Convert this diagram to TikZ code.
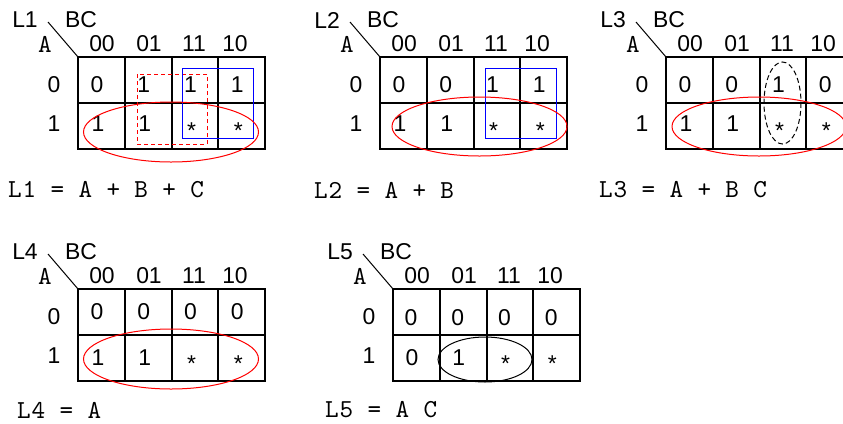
\documentclass[tikz,border=0pt]{standalone}
\usepackage{fontspec}
\setmainfont{Liberation Sans}
\newfontfamily\eqfont[LetterSpace=3]{lmmono10-regular.otf}

\tikzset{
  every node/.style={inner sep=0pt, font=\fontsize{23}{27}\selectfont},
  cellline/.style={line width=2bp},
  vartext/.style={font=\eqfont\fontsize{26}{30}\selectfont},
  eqtext/.style={font=\eqfont\fontsize{26}{30}\selectfont, anchor=west},
  groupred/.style={red, line width=1bp},
  groupblue/.style={blue, line width=1bp},
  groupblack/.style={black, line width=1bp},
}

% Marco de un mapa de Karnaugh (rejilla, cabeceras y etiquetas)
\newcommand{\kframe}[1]{%
  \draw[cellline] (0,0) rectangle (187,92);
  \foreach \i in {1,2,3} \draw[cellline] (\i*46.75,0) -- (\i*46.75,92);
  \draw[cellline] (0,46) -- (187,46);
  \node (name) at (-53,-37) {#1};
  \node (bc) at (3,-37) {BC};
  \node[vartext] (a) at (-33,-13) {A};
  \coordinate (slash) at (-30,-35);
  \coordinate (corner) at (0,0);
  \draw[line width=1bp] (slash) -- (corner);
  \foreach \h/\x in {00/24, 01/71, 11/116, 10/157}
    \node (col\h) at (\x,-13) {\h};
  \node (row0) at (-24,28) {0};
  \node (row1) at (-24,67) {1};
}

\begin{document}
\begin{tikzpicture}[x=1bp, y=-1bp]
  \useasboundingbox (0,0) rectangle (843,423);
  \clip (0,0) rectangle (843,423);

  % L1
  \begin{scope}[shift={(78,57)}, name prefix=m1-]
    \kframe{L1}
    \foreach \v [count=\c from 0] in {0,1,1,1}
      \node (r0c\c) at ({\c*46.75+19},28) {\v};
    \foreach \v/\y [count=\c from 0] in {1/67, 1/67, */74, */74}
      \node (r1c\c) at ({\c*46.75+20},\y) {\v};
    \draw[groupred, dash pattern=on 4bp off 3bp] (59,17) rectangle (129,87);
    \draw[groupblue] (104,11) rectangle (175,81);
    \draw[groupred] (93,75) ellipse [x radius=87.5, y radius=30];
  \end{scope}

  % L2
  \begin{scope}[shift={(380,57)}, name prefix=m2-]
    \kframe{L2}
    \foreach \v [count=\c from 0] in {0,0,1,1}
      \node (r0c\c) at ({\c*46.75+19},28) {\v};
    \foreach \v/\y [count=\c from 0] in {1/67, 1/67, */74, */74}
      \node (r1c\c) at ({\c*46.75+20},\y) {\v};
    \draw[groupblue] (105,11) rectangle (176,81);
    \draw[groupred] (99.5,69.5) ellipse [x radius=87.5, y radius=29.5];
  \end{scope}

  % L3
  \begin{scope}[shift={(666,57)}, name prefix=m3-]
    \kframe{L3}
    \foreach \v [count=\c from 0] in {0,0,1,0}
      \node (r0c\c) at ({\c*46.75+19},28) {\v};
    \foreach \v/\y [count=\c from 0] in {1/67, 1/67, */74, */74}
      \node (r1c\c) at ({\c*46.75+20},\y) {\v};
    \draw[groupblack, dash pattern=on 5bp off 3bp] (116.5,46) ellipse [x radius=18.5, y radius=41];
    \draw[groupred] (93,69.5) ellipse [x radius=87, y radius=29.5];
  \end{scope}

  % L4
  \begin{scope}[shift={(78,289)}, name prefix=m4-]
    \kframe{L4}
    \foreach \v [count=\c from 0] in {0,0,0,0}
      \node (r0c\c) at ({\c*46.75+19},23) {\v};
    \foreach \v/\y [count=\c from 0] in {1/69, 1/69, */75, */75}
      \node (r1c\c) at ({\c*46.75+20},\y) {\v};
    \draw[groupred] (93,70) ellipse [x radius=87.5, y radius=30];
  \end{scope}

  % L5
  \begin{scope}[shift={(393,289)}, name prefix=m5-]
    \kframe{L5}
    \foreach \v [count=\c from 0] in {0,0,0,0}
      \node (r0c\c) at ({\c*46.75+18},29) {\v};
    \foreach \v/\y [count=\c from 0] in {0/69, 1/69, */75, */75}
      \node (r1c\c) at ({\c*46.75+19},\y) {\v};
    \draw[groupblack] (92,70.5) ellipse [x radius=47, y radius=22.5];
  \end{scope}

  % Ecuaciones simplificadas
  \node[eqtext] (eq1) at (8,190) {L1 = A + B + C};
  \node[eqtext] (eq2) at (314,190) {L2 = A + B};
  \node[eqtext] (eq3) at (599,190) {L3 = A + B C};
  \node[eqtext] (eq4) at (17,410) {L4 = A};
  \node[eqtext] (eq5) at (325,410) {L5 = A C};
\end{tikzpicture}
\end{document}
